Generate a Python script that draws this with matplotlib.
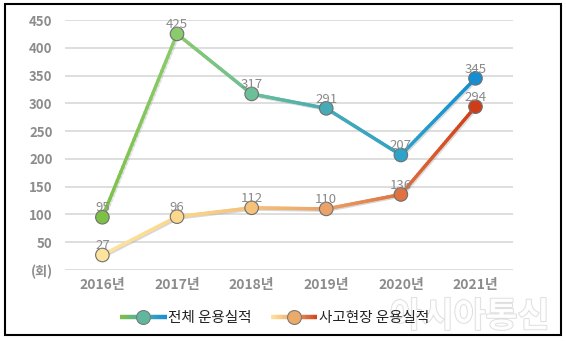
import numpy as np
import matplotlib
matplotlib.use("Agg")
import matplotlib.pyplot as plt
from matplotlib.collections import LineCollection
from matplotlib.colors import LinearSegmentedColormap
from matplotlib.legend_handler import HandlerBase
from matplotlib.lines import Line2D
from matplotlib.patches import Rectangle
import matplotlib.patheffects as pe

plt.rcParams['font.family'] = ['Noto Sans CJK KR', 'DejaVu Sans']

years = ['2016년', '2017년', '2018년', '2019년', '2020년', '2021년']
total_ops = [95, 425, 317, 291, 207, 345]
site_ops = [27, 96, 112, 110, 136, 294]
series_names = ['전체 운용실적', '사고현장 운용실적']

# marker colours per point (gradient along the line)
total_colors = ['#7cc146', '#8bcb6d', '#6cbf97', '#47abb5', '#2ea3c9', '#158fd2']
site_colors = ['#fde49c', '#fbd88b', '#f5c27a', '#eba268', '#e07240', '#cf3d17']

GRAY = '#8c8c8c'


def gradient_line(ax, xs, ys, colors, lw=2.4, n=40):
    cmap = LinearSegmentedColormap.from_list('g', colors)
    segs, cols = [], []
    for i in range(len(xs) - 1):
        for k in range(n):
            t0, t1 = k / n, (k + 1) / n
            x0 = xs[i] + (xs[i + 1] - xs[i]) * t0
            x1 = xs[i] + (xs[i + 1] - xs[i]) * t1
            y0 = ys[i] + (ys[i + 1] - ys[i]) * t0
            y1 = ys[i] + (ys[i + 1] - ys[i]) * t1
            segs.append([(x0, y0), (x1, y1)])
            cols.append(cmap((i + (t0 + t1) / 2) / (len(xs) - 1)))
    lc = LineCollection(segs, colors=cols, linewidths=lw, capstyle='round', zorder=3,
                        path_effects=[pe.SimpleLineShadow(offset=(1.0, -1.0), shadow_color='#b0b0b0', alpha=0.25),
                                      pe.Normal()])
    ax.add_collection(lc)
    return lc


class GradientHandler(HandlerBase):
    def __init__(self, colors, marker_color):
        super().__init__()
        self.colors = colors
        self.marker_color = marker_color

    def create_artists(self, legend, orig_handle, xdescent, ydescent, width, height, fontsize, trans):
        cmap = LinearSegmentedColormap.from_list('h', self.colors)
        n = 30
        xs = np.linspace(-xdescent, width - xdescent, n + 1)
        y = height / 2 - ydescent
        segs = [[(xs[i], y), (xs[i + 1], y)] for i in range(n)]
        lc = LineCollection(segs, colors=[cmap(i / n) for i in range(n)], linewidths=3.2, transform=trans)
        mk = Line2D([(width - xdescent) / 2 - xdescent / 2], [y], marker='o', markersize=10,
                    markerfacecolor=self.marker_color, markeredgecolor='#7a7a7a', markeredgewidth=0.8,
                    linestyle='none', transform=trans)
        return [lc, mk]


fig = plt.figure(figsize=(5.66, 3.42), dpi=100)
ax = fig.add_axes([0.115, 0.2105, 0.791, 0.731])

x = np.arange(len(years))
ax.set_xlim(-0.5, len(years) - 0.5)
ax.set_ylim(0, 450)
ax.set_yticks(np.arange(0, 451, 50))
ax.set_yticklabels(['(회)'] + [str(v) for v in range(50, 451, 50)])
ax.set_xticks(x, labels=years)
ax.grid(axis='y', color='#d4d4d4', linewidth=1.1)
ax.set_axisbelow(True)
for s in ax.spines.values():
    s.set_visible(False)
ax.tick_params(length=0, colors=GRAY)
ax.tick_params(axis='x', pad=6, labelsize=10)
ax.tick_params(axis='y', pad=9, labelsize=9.5)
for lab in ax.get_xticklabels() + ax.get_yticklabels():
    lab.set_fontweight('bold')
    lab.set_color(GRAY)

gradient_line(ax, x, total_ops, total_colors)
gradient_line(ax, x, site_ops, site_colors)

for vals, cols in [(total_ops, total_colors), (site_ops, site_colors)]:
    ax.scatter(x, vals, s=95, c=cols, edgecolors='#6f6f6f', linewidths=0.8, zorder=4)
    for xi, v in zip(x, vals):
        ax.text(xi, v + 5, str(v), ha='center', va='bottom', fontsize=9.5, color='#8a8a8a', zorder=5)

# watermark (drawn under the legend)
fig.text(0.83, 0.075, '아시아통신', fontsize=25, fontweight='bold', color='white', ha='center', va='center',
         alpha=0.9, path_effects=[pe.withStroke(linewidth=1.2, foreground='#d8d8d8')], zorder=1)

h1 = Line2D([], [])
h2 = Line2D([], [])
leg = fig.legend([h1, h2], series_names, loc='center', bbox_to_anchor=(0.485, 0.07), ncol=2,
                 frameon=False, fontsize=10.5, handlelength=3.2, handletextpad=0.1, columnspacing=1.3,
                 handler_map={h1: GradientHandler(['#7cc146', '#47abb5', '#158fd2'], '#5fb7a0'),
                              h2: GradientHandler(['#fde49c', '#eba268', '#cf3d17'], '#ebaa68')})
leg.set_zorder(20)
for t in leg.get_texts():
    t.set_color('#222222')

# outer frame
fig.patches.append(Rectangle((5 / 566, 1 - 335 / 342), 556 / 566, 331 / 342, transform=fig.transFigure,
                             fill=False, edgecolor='black', linewidth=1.5))

fig.savefig('out.png', dpi=100)
